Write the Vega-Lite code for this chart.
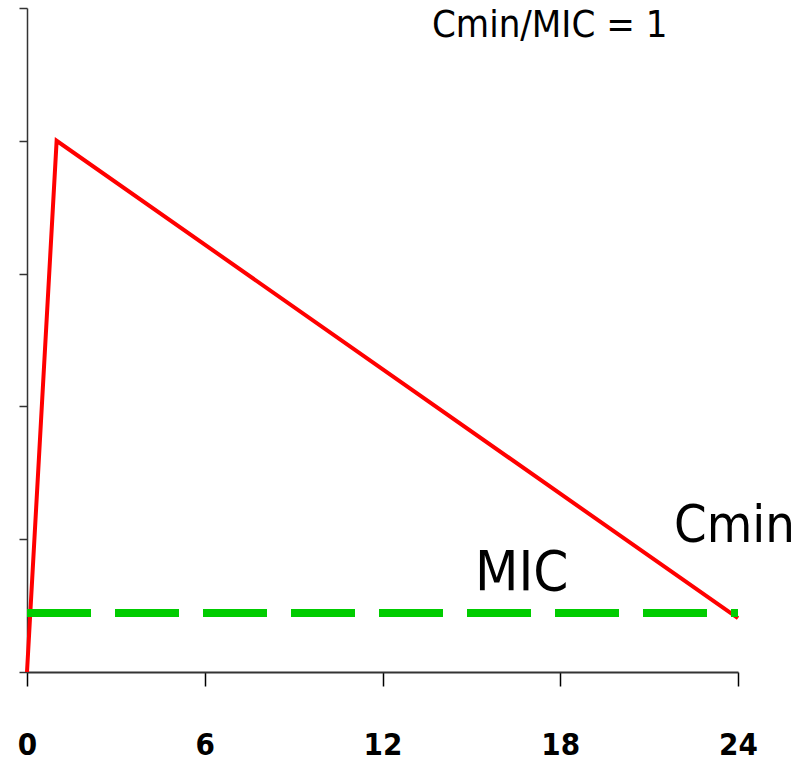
{
  "$schema": "https://vega.github.io/schema/vega-lite/v6.json",
  "width": 711,
  "height": 664,
  "autosize": "none",
  "padding": {"left": 27, "top": 8, "right": 67, "bottom": 89},
  "background": "white",
  "config": {"view": {"stroke": null}},
  "datasets": {
    "conc": [
      {"time": 0, "conc": 0},
      {"time": 1, "conc": 8},
      {"time": 24, "conc": 0.81}
    ],
    "mic": [
      {"time": 0, "conc": 0.89},
      {"time": 24, "conc": 0.89}
    ],
    "notes": [
      {"time": 13.67, "conc": 9.56, "label": "Cmin/MIC = 1", "size": 38},
      {"time": 15.12, "conc": 1.235, "label": "MIC", "size": 56},
      {"time": 21.84, "conc": 1.96, "label": "Cmin", "size": 52}
    ]
  },
  "layer": [
    {
      "data": {"name": "conc"},
      "mark": {"type": "line", "color": "#ff0000", "strokeWidth": 4, "clip": false},
      "encoding": {
        "x": {
          "field": "time",
          "type": "quantitative",
          "scale": {"domain": [0, 24], "nice": false, "zero": false},
          "axis": {
            "values": [0, 6, 12, 18, 24],
            "title": null,
            "grid": false,
            "domainColor": "#333333",
            "domainWidth": 2,
            "tickColor": "black",
            "tickWidth": 1.5,
            "tickSize": 14,
            "labelFont": "DejaVu Sans Condensed",
            "labelFontWeight": "bold",
            "labelFontSize": 31,
            "labelColor": "black",
            "labelBaseline": "alphabetic",
            "labelPadding": 68,
            "labelFlush": false,
            "labelOverlap": false
          }
        },
        "y": {
          "field": "conc",
          "type": "quantitative",
          "scale": {"domain": [0, 10], "nice": false},
          "axis": {
            "values": [0, 2, 4, 6, 8, 10],
            "title": null,
            "grid": false,
            "labels": false,
            "domainColor": "#333333",
            "domainWidth": 1.5,
            "tickColor": "#333333",
            "tickWidth": 1.5,
            "tickSize": 8
          }
        }
      }
    },
    {
      "data": {"name": "mic"},
      "mark": {"type": "line", "color": "#00cc00", "strokeWidth": 8, "strokeDash": [64, 24], "strokeCap": "butt"},
      "encoding": {
        "x": {"field": "time", "type": "quantitative"},
        "y": {"field": "conc", "type": "quantitative"}
      }
    },
    {
      "data": {"name": "notes"},
      "mark": {"type": "text", "align": "left", "baseline": "alphabetic", "font": "DejaVu Sans Condensed", "color": "black"},
      "encoding": {
        "x": {"field": "time", "type": "quantitative"},
        "y": {"field": "conc", "type": "quantitative"},
        "text": {"field": "label"},
        "size": {"field": "size", "type": "quantitative", "scale": null}
      }
    }
  ]
}
